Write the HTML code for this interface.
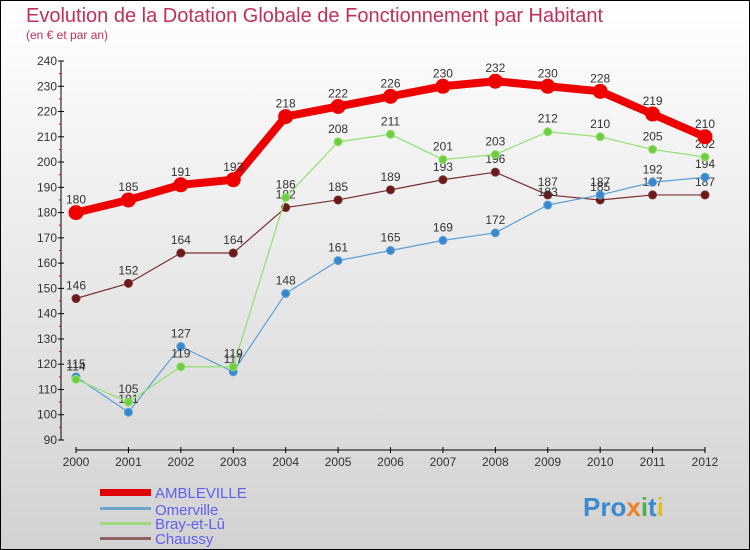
<!DOCTYPE html>
<html><head><meta charset="utf-8">
<style>
html,body{margin:0;padding:0}
body{width:750px;height:550px;overflow:hidden;font-family:"Liberation Sans","DejaVu Sans",sans-serif}
svg{display:block}
</style></head>
<body>
<svg id="chart" width="750" height="550" xmlns="http://www.w3.org/2000/svg">
<defs>
<linearGradient id="bg" x1="0" y1="0" x2="0" y2="1">
<stop offset="0" stop-color="#ffffff"/><stop offset="1" stop-color="#d2d2d2"/>
</linearGradient>
</defs>
<rect x="0.5" y="0.5" width="749" height="549" fill="url(#bg)" stroke="#000"/>
<text x="26" y="22" font-size="20" fill="#c0305a">Evolution de la Dotation Globale de Fonctionnement par Habitant</text>
<text x="26" y="39" font-size="12" fill="#c0305a">(en € et par an)</text>
<g id="axes"></g>
<g id="series"></g>
<g id="legend">
<rect x="100" y="489" width="51" height="7" fill="#e00000"/>
<text x="155" y="498" font-size="15" fill="#6060f0">AMBLEVILLE</text>
<rect x="100" y="507" width="51" height="3" fill="#6ea6cc"/>
<text x="155" y="515" font-size="15" fill="#6060f0">Omerville</text>
<rect x="100" y="522" width="51" height="3" fill="#a0d880"/>
<text x="155" y="529" font-size="15" fill="#6060f0">Bray-et-Lû</text>
<rect x="100" y="537" width="51" height="3" fill="#906060"/>
<text x="155" y="544" font-size="15" fill="#6060f0">Chaussy</text>
</g>
<g>
<text x="583" y="516" font-size="26" font-weight="bold" fill="#3a8ad0">Pro<tspan fill="#f08020">x</tspan><tspan fill="#50b050">i</tspan>t<tspan fill="#e0c020">i</tspan></text>
</g>
</svg>
<script>
const years = [2000,2001,2002,2003,2004,2005,2006,2007,2008,2009,2010,2011,2012];
const ambleville = [180,185,191,193,218,222,226,230,232,230,228,219,210];
const omerville = [115,101,127,117,148,161,165,169,172,183,187,192,194];
const bray = [114,105,119,119,186,208,211,201,203,212,210,205,202];
const chaussy = [146,152,164,164,182,185,189,193,196,187,185,187,187];
const yTicks = [90,100,110,120,130,140,150,160,170,180,190,200,210,220,230,240];

const NS = "http://www.w3.org/2000/svg";
const x0 = 76, x1 = 705, yMin = 90, yMax = 240, yTop = 61, yBot = 440;
function xs(i){ return x0 + (x1 - x0) * i / (years.length - 1); }
function ys(v){ return yBot - (v - yMin) / (yMax - yMin) * (yBot - yTop); }
function mk(tag, attrs, parent){ const e = document.createElementNS(NS, tag); for (const k in attrs) e.setAttribute(k, attrs[k]); parent.appendChild(e); return e; }

const axes = document.getElementById('axes');
const yAxis = mk('line', {x1:61, y1:yTop, x2:61, y2:yBot, stroke:'#000', 'stroke-width':1}, axes);


yTicks.forEach((t, i) => {
  const y = ys(t);
  const tk = mk('line', {x1:58, y1:y, x2:64, y2:y, stroke:'#000'}, axes);
  
  
  const lb = mk('text', {x:57, y:y + 4, 'font-size':12, fill:'#333', 'text-anchor':'end'}, axes);
  lb.textContent = t;
  
  
  if (i < yTicks.length - 1) {
    const ym = ys(t + 5);
    const mt = mk('line', {x1:59, y1:ym, x2:61, y2:ym, stroke:'#e00000'}, axes);
    
    
  }
});
const xAxis = mk('line', {x1:x0, y1:450, x2:x1, y2:450, stroke:'#000'}, axes);


years.forEach((yr, i) => {
  const x = xs(i);
  const tk = mk('line', {x1:x, y1:447, x2:x, y2:453, stroke:'#000'}, axes);
  
  
  const lb = mk('text', {x:x, y:466, 'font-size':12, fill:'#333', 'text-anchor':'middle'}, axes);
  lb.textContent = yr;
  
  
});

const seriesG = document.getElementById('series');
function drawSeries(vals, name, color, dot, lw, r){
  const g = mk('g', {}, seriesG);
  
  
  const pts = vals.map((v, i) => xs(i) + ',' + ys(v)).join(' ');
  const pl = mk('polyline', {points:pts, fill:'none', stroke:color, 'stroke-width':lw, 'stroke-linejoin':'round'}, g);
  
  
  vals.forEach((v, i) => {
    const c = mk('circle', {cx:xs(i), cy:ys(v), r:r, fill:dot, stroke:color, 'stroke-width':1}, g);
    
    
    const t = mk('text', {x:xs(i), y:ys(v) - 9, 'font-size':12, fill:'#333', 'text-anchor':'middle'}, g);
    t.textContent = v;
    
    
  });
}
drawSeries(chaussy, 'chaussy', '#7a3030', '#6a1a1a', 1.2, 4);
drawSeries(omerville, 'omerville', '#5aa0d8', '#3a88cc', 1.2, 4);
drawSeries(bray, 'bray', '#90e070', '#70cc40', 1.2, 4);
drawSeries(ambleville, 'ambleville', '#ee0000', '#ee0000', 8, 7);
</script>
</body></html>
